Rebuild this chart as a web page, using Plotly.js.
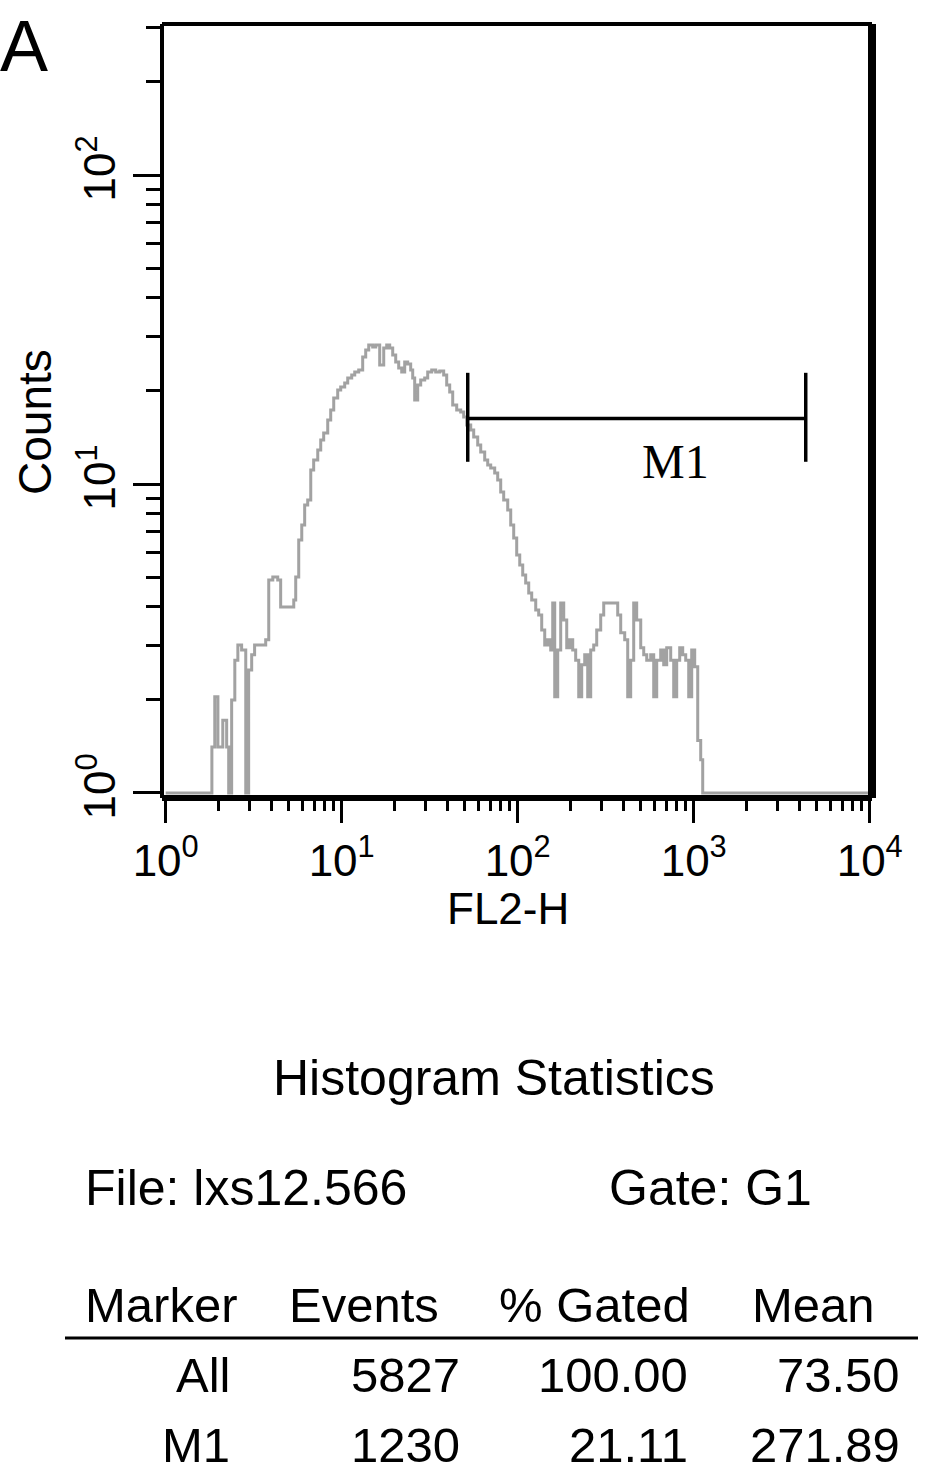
<!DOCTYPE html>
<html>
<head>
<meta charset="utf-8">
<script src="https://cdn.plot.ly/plotly-3.0.1.min.js"></script>
<style>
  body { margin: 0; background: #fff; }
  #plotdiv { width: 945px; height: 1478px; }
</style>
</head>
<body>
<div id="plotdiv"></div>
<script>
// FL2-H channel values and counts
var fl2h = [1, 1.78, 1.83, 1.90, 1.98, 2.11, 2.22, 2.28, 2.37, 2.47, 2.57, 2.70, 2.85, 2.96, 3.08, 3.20,
  3.47, 3.70, 3.85, 4.06, 4.33, 4.50, 4.87, 5.34, 5.48, 5.70, 5.93, 6.16, 6.41, 6.67, 6.93, 7.31,
  7.60, 7.90, 8.33, 8.66, 9.01, 9.49, 9.87, 10.40, 10.82, 11.40, 11.86, 12.49, 13.16, 13.69, 14.24,
  15.00, 15.61, 16.44, 17.33, 18.02, 18.74, 19.49, 20.27, 21.08, 21.93, 22.80, 23.71, 24.66, 25.32,
  25.98, 27.03, 28.11, 29.62, 30.81, 32.47, 34.20, 36.06, 37.97, 39.50, 41.08, 42.73, 45.02, 47.44,
  49.34, 51.31, 54.08, 56.23, 59.26, 61.64, 64.94, 67.54, 70.24, 74.01, 76.97, 80.06, 83.25, 87.77,
  91.27, 94.91, 98.70, 102.7, 106.8, 111.0, 115.5, 120.1, 126.6, 131.6, 136.9, 142.4, 148.1, 154.0,
  158.1, 162.3, 168.8, 175.5, 182.6, 189.9, 197.5, 205.4, 213.5, 222.2, 231.0, 240.3, 249.9, 259.9,
  270.3, 281.1, 296.2, 308.1, 324.7, 342.0, 355.7, 370.0, 384.8, 405.5, 421.7, 438.5, 456.1, 474.3,
  500.0, 520.0, 540.8, 569.8, 592.6, 616.4, 649.4, 675.4, 702.4, 740.1, 769.7, 800.6, 832.6, 866.0,
  900.6, 936.7, 974.1, 1013, 1054, 1096, 1125, 10000];
var counts = [1, 1, 1.41, 2.05, 1.41, 1.72, 1.41, 1, 2.0, 2.69, 3.01, 2.90, 1, 2.50, 2.80, 3.01,
  3.01, 3.13, 4.89, 5.0, 4.89, 4.0, 4.0, 4.21, 5.0, 6.59, 7.37, 8.55, 8.88, 11.10, 11.96, 12.88,
  13.88, 14.62, 16.11, 17.36, 18.98, 20.15, 20.60, 21.23, 22.03, 22.53, 23.04, 23.38, 25.76, 27.15, 28.18,
  27.76, 28.18, 24.28, 27.55, 28.18, 27.55, 26.16, 24.82, 23.74, 23.04, 24.82, 24.45, 23.38, 22.03,
  18.70, 20.91, 21.71, 22.03, 23.04, 23.38, 23.04, 23.21, 22.53, 20.91, 19.85, 18.02, 17.36, 17.10,
  16.48, 15.52, 14.95, 14.20, 13.37, 12.69, 11.96, 11.52, 11.26, 10.85, 10.30, 9.42, 8.88, 8.24,
  7.37, 6.69, 5.89, 5.47, 5.08, 4.78, 4.44, 4.21, 3.91, 3.77, 3.37, 3.01, 3.13, 2.90,
  4.12, 2.05, 2.90, 4.12, 3.63, 2.95, 3.13, 2.90, 2.69, 2.05, 2.60, 2.80, 2.05, 2.90,
  3.01, 3.37, 3.77, 4.12, 4.12, 4.12, 4.12, 3.77, 3.30, 3.13, 2.05, 2.69, 4.12, 3.63,
  2.95, 2.80, 2.69, 2.80, 2.05, 2.69, 2.90, 2.60, 2.95, 2.69, 2.05, 2.69, 2.95, 2.80,
  2.69, 2.05, 2.90, 2.56, 1.48, 1.28, 1, 1];

// marker M1
var m1Gate = [52, 4330];
var m1Level = 16.3;
var m1Bar = [11.8, 22.9];
var m1Name = 'M1';

// statistics block
var statsTitle = 'Histogram Statistics';
var fileName = 'lxs12.566';
var gateName = 'G1';
var statHeaders = ['Marker', 'Events', '% Gated', 'Mean'];
var statMarkers = ['All', 'M1'];
var statEvents = ['5827', '1230'];
var statGated = ['100.00', '21.11'];
var statMeans = ['73.50', '271.89'];

var xTickVals = [1, 10, 100, 1000, 10000];
var xTickText = ['10<sup>0</sup>', '10<sup>1</sup>', '10<sup>2</sup>', '10<sup>3</sup>', '10<sup>4</sup>'];
var yTickVals = [1, 10, 100];
var yTickText = ['10<sup>0</sup>', '10<sup>1</sup>', '10<sup>2</sup>'];

var FONT = 'Liberation Sans, Arial, sans-serif';

// plot box in page pixels
var L = 162, R = 872, T = 24, B = 798;
function px(x) { return (x - L) / (R - L); }
function py(y) { return (B - y) / (B - T); }

function minorTicks(maxDecade) {
  var out = [];
  for (var d = 0; d < maxDecade; d++) {
    for (var k = 2; k < 10; k++) out.push(k * Math.pow(10, d));
  }
  return out;
}

var hist = {
  x: fl2h,
  y: counts,
  mode: 'lines',
  type: 'scatter',
  line: {shape: 'hv', color: '#a2a2a2', width: 3},
  hoverinfo: 'x+y'
};

var gate = {
  x: [m1Gate[0], m1Gate[1], null, m1Gate[0], m1Gate[0], null, m1Gate[1], m1Gate[1]],
  y: [m1Level, m1Level, null, m1Bar[0], m1Bar[1], null, m1Bar[0], m1Bar[1]],
  mode: 'lines',
  type: 'scatter',
  line: {color: '#000', width: 3.5},
  hoverinfo: 'skip'
};

var anns = [];
function txt(s, x, y, size, anchor, extra) {
  var a = {
    text: s, xref: 'paper', yref: 'paper', x: px(x), y: py(y),
    xanchor: anchor || 'center', yanchor: 'middle', showarrow: false,
    font: {family: FONT, size: size, color: '#000'}
  };
  for (var k in extra) a[k] = extra[k];
  anns.push(a);
}

txt('A', 24, 46, 72);
txt('Counts', 35, 422, 46, 'center', {textangle: -90});
txt('FL2-H', 508, 908, 44);
txt(statsTitle, 494, 1078, 50);
txt('File: ' + fileName, 83, 1188, 50, 'left');
txt('Gate: ' + gateName, 607, 1188, 50, 'left');

var headX = [83, 287, 497, 750];
for (var i = 0; i < statHeaders.length; i++) txt(statHeaders[i], headX[i], 1305, 49, 'left');
var colRight = [232, 462, 690, 902];
var rowY = [1375, 1445];
for (var r = 0; r < statMarkers.length; r++) {
  var cells = [statMarkers[r], statEvents[r], statGated[r], statMeans[r]];
  for (var c = 0; c < cells.length; c++) txt(cells[c], colRight[c], rowY[r], 49, 'right');
}

// M1 label sits just under the gate bar
anns.push({
  text: m1Name, xref: 'x', yref: 'y',
  x: Math.log10(Math.sqrt(m1Gate[0] * m1Gate[1])) + 0.22, y: Math.log10(m1Level) - 0.14,
  showarrow: false, xanchor: 'center', yanchor: 'middle',
  font: {family: 'Liberation Serif, Times New Roman, serif', size: 48, color: '#000'}
});

var shapes = [
  {type: 'line', xref: 'paper', yref: 'paper', x0: 0, x1: 0, y0: 0, y1: 1, line: {color: '#000', width: 4}},
  {type: 'line', xref: 'paper', yref: 'paper', x0: 0, x1: 1, y0: 1, y1: 1, line: {color: '#000', width: 4}},
  {type: 'line', xref: 'paper', yref: 'paper', x0: 1, x1: 1, y0: 0, y1: 1, line: {color: '#000', width: 8}},
  {type: 'line', xref: 'paper', yref: 'paper', x0: 0, x1: 1, y0: 0, y1: 0, line: {color: '#000', width: 6}},
  {type: 'line', xref: 'paper', yref: 'paper', x0: px(65), x1: px(918), y0: py(1338), y1: py(1338), line: {color: '#000', width: 3}}
];

var layout = {
  width: 945,
  height: 1478,
  margin: {l: L, r: 945 - R, t: T, b: 1478 - B},
  paper_bgcolor: '#fff',
  plot_bgcolor: '#fff',
  showlegend: false,
  xaxis: {
    type: 'log', range: [-0.021, 4.013], showgrid: false, zeroline: false, showline: false,
    tickmode: 'array', tickvals: xTickVals, ticktext: xTickText,
    ticks: 'outside', ticklen: 24, tickwidth: 3, tickcolor: '#000',
    tickfont: {family: FONT, size: 44, color: '#000'},
    minor: {tickmode: 'array', tickvals: minorTicks(4), ticks: 'outside', ticklen: 12, tickwidth: 3, tickcolor: '#000'}
  },
  yaxis: {
    type: 'log', range: [-0.0162, 2.4887], showgrid: false, zeroline: false, showline: false,
    tickmode: 'array', tickvals: yTickVals, ticktext: yTickText, tickangle: -90,
    ticks: 'outside', ticklen: 28, tickwidth: 3, tickcolor: '#000',
    tickfont: {family: FONT, size: 44, color: '#000'},
    minor: {tickmode: 'array', tickvals: minorTicks(3), ticks: 'outside', ticklen: 15, tickwidth: 3, tickcolor: '#000'}
  },
  shapes: shapes,
  annotations: anns
};

Plotly.newPlot('plotdiv', [hist, gate], layout, {staticPlot: true});
</script>
</body>
</html>
